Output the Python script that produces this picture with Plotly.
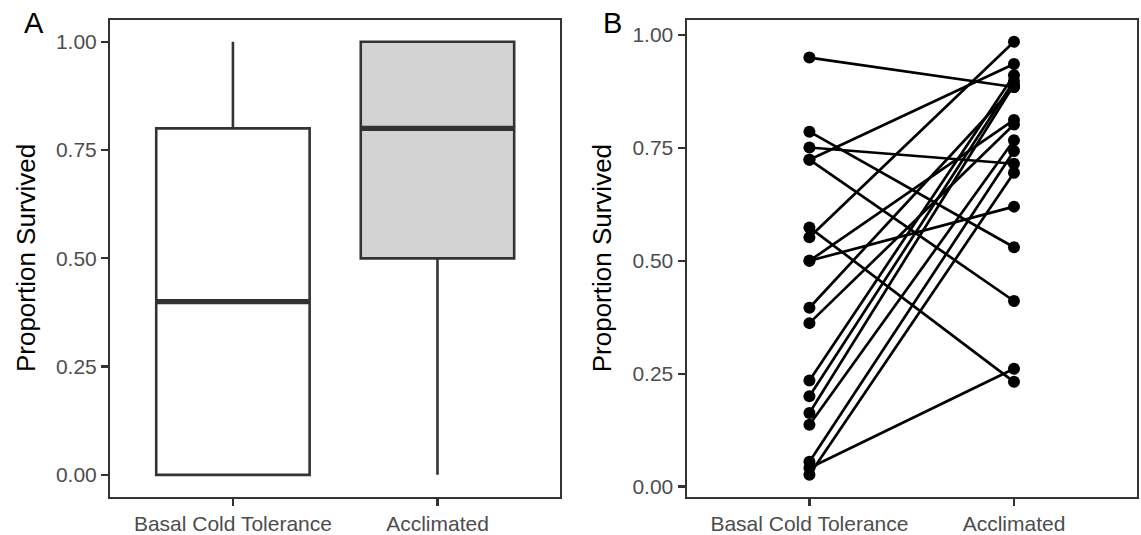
import plotly.graph_objects as go

# ---------------- data ----------------
categories = ["Basal Cold Tolerance", "Acclimated"]

# Panel A: box summary (per category)
box_q1 = [0.0, 0.5]
box_median = [0.4, 0.8]
box_q3 = [0.8, 1.0]
box_lower = [0.0, 0.0]
box_upper = [1.0, 1.0]
box_fill = ["#FFFFFF", "#D3D3D3"]

# Panel B: paired proportions (basal -> acclimated)
basal_b = [0.950, 0.786, 0.751, 0.724, 0.724, 0.574, 0.552, 0.500, 0.500,
           0.396, 0.362, 0.235, 0.200, 0.163, 0.137, 0.055, 0.041, 0.026]
accl_b = [0.885, 0.530, 0.715, 0.936, 0.411, 0.232, 0.985, 0.620, 0.812,
          0.885, 0.802, 0.911, 0.898, 0.890, 0.767, 0.743, 0.261, 0.695]

y_tickvals = [0, 0.25, 0.5, 0.75, 1.0]
y_ticktext = ["0.00", "0.25", "0.50", "0.75", "1.00"]

# ---------------- styling ----------------
W, H = 1141, 535
FRAME = "#333333"
TICKCOL = "#4D4D4D"
FONT = "Liberation Sans, Arial, Helvetica, sans-serif"
box_width = 0.75

fig = go.Figure()

# Panel A boxes
for i, cat in enumerate(categories):
    fig.add_trace(go.Box(
        x=[i], q1=[box_q1[i]], median=[box_median[i]], q3=[box_q3[i]],
        lowerfence=[box_lower[i]], upperfence=[box_upper[i]],
        width=box_width, fillcolor=box_fill[i], boxpoints=False,
        line=dict(color=FRAME, width=2.6), whiskerwidth=0,
        xaxis="x", yaxis="y", showlegend=False, hoverinfo="skip"))
    # thicker median line (ggplot style)
    fig.add_trace(go.Scatter(
        x=[i - box_width / 2, i + box_width / 2],
        y=[box_median[i], box_median[i]],
        mode="lines", line=dict(color=FRAME, width=5.2),
        xaxis="x", yaxis="y", showlegend=False, hoverinfo="skip"))

# Panel B paired lines
lx, ly = [], []
for b, a in zip(basal_b, accl_b):
    lx += [0, 1, None]
    ly += [b, a, None]
fig.add_trace(go.Scatter(x=lx, y=ly, mode="lines",
                         line=dict(color="black", width=2.7),
                         xaxis="x2", yaxis="y2", showlegend=False, hoverinfo="skip"))
fig.add_trace(go.Scatter(x=[0] * len(basal_b) + [1] * len(accl_b),
                         y=basal_b + accl_b, mode="markers",
                         marker=dict(color="black", size=12),
                         xaxis="x2", yaxis="y2", showlegend=False, hoverinfo="skip"))

mn, mx = min(basal_b + accl_b), max(basal_b + accl_b)
span = mx - mn
yrange_b = [mn - 0.05 * span, mx + 0.05 * span]

ydom = [1 - 505 / H, 1 - 20.5 / H]
common_axis = dict(showline=True, mirror=True, linecolor=FRAME, linewidth=2.2,
                   ticks="outside", ticklen=7, tickwidth=2.2, tickcolor=FRAME,
                   tickfont=dict(family=FONT, size=21, color=TICKCOL),
                   showgrid=False, zeroline=False)

title_font = dict(family=FONT, size=26, color="black")
fig.update_layout(
    width=W, height=H, margin=dict(l=0, r=0, t=0, b=0),
    paper_bgcolor="white", plot_bgcolor="white",
    font=dict(family=FONT),
    xaxis=dict(domain=[110.2 / W, 560.2 / W], range=[-0.6, 1.6],
               tickvals=[0, 1], ticktext=categories, anchor="y", **common_axis),
    yaxis=dict(domain=ydom, range=[-0.05, 1.05],
               tickvals=y_tickvals, ticktext=y_ticktext,
               anchor="x", **common_axis),
    xaxis2=dict(domain=[686.7 / W, 1136.7 / W], range=[-0.6, 1.6],
                tickvals=[0, 1], ticktext=categories, anchor="y2", **common_axis),
    yaxis2=dict(domain=ydom, range=yrange_b,
                tickvals=y_tickvals, ticktext=y_ticktext,
                anchor="x2", **common_axis),
    annotations=[
        dict(text="Proportion Survived", x=25.5 / W, y=1 - 263 / H, xref="paper", yref="paper",
             textangle=-90, showarrow=False, xanchor="center", yanchor="middle",
             font=title_font),
        dict(text="Proportion Survived", x=601.7 / W, y=1 - 263 / H, xref="paper", yref="paper",
             textangle=-90, showarrow=False, xanchor="center", yanchor="middle",
             font=title_font),
        dict(text="A", x=34 / W, y=1 - 23 / H, xref="paper", yref="paper",
             showarrow=False, xanchor="center", yanchor="middle",
             font=dict(family=FONT, size=29, color="black")),
        dict(text="B", x=612.5 / W, y=1 - 23 / H, xref="paper", yref="paper",
             showarrow=False, xanchor="center", yanchor="middle",
             font=dict(family=FONT, size=29, color="black")),
    ],
)

fig.write_html("out.html",
               config={"displayModeBar": False, "staticPlot": True},
               post_script="document.body.style.margin='0px';"
                           "document.body.style.overflow='hidden';")
